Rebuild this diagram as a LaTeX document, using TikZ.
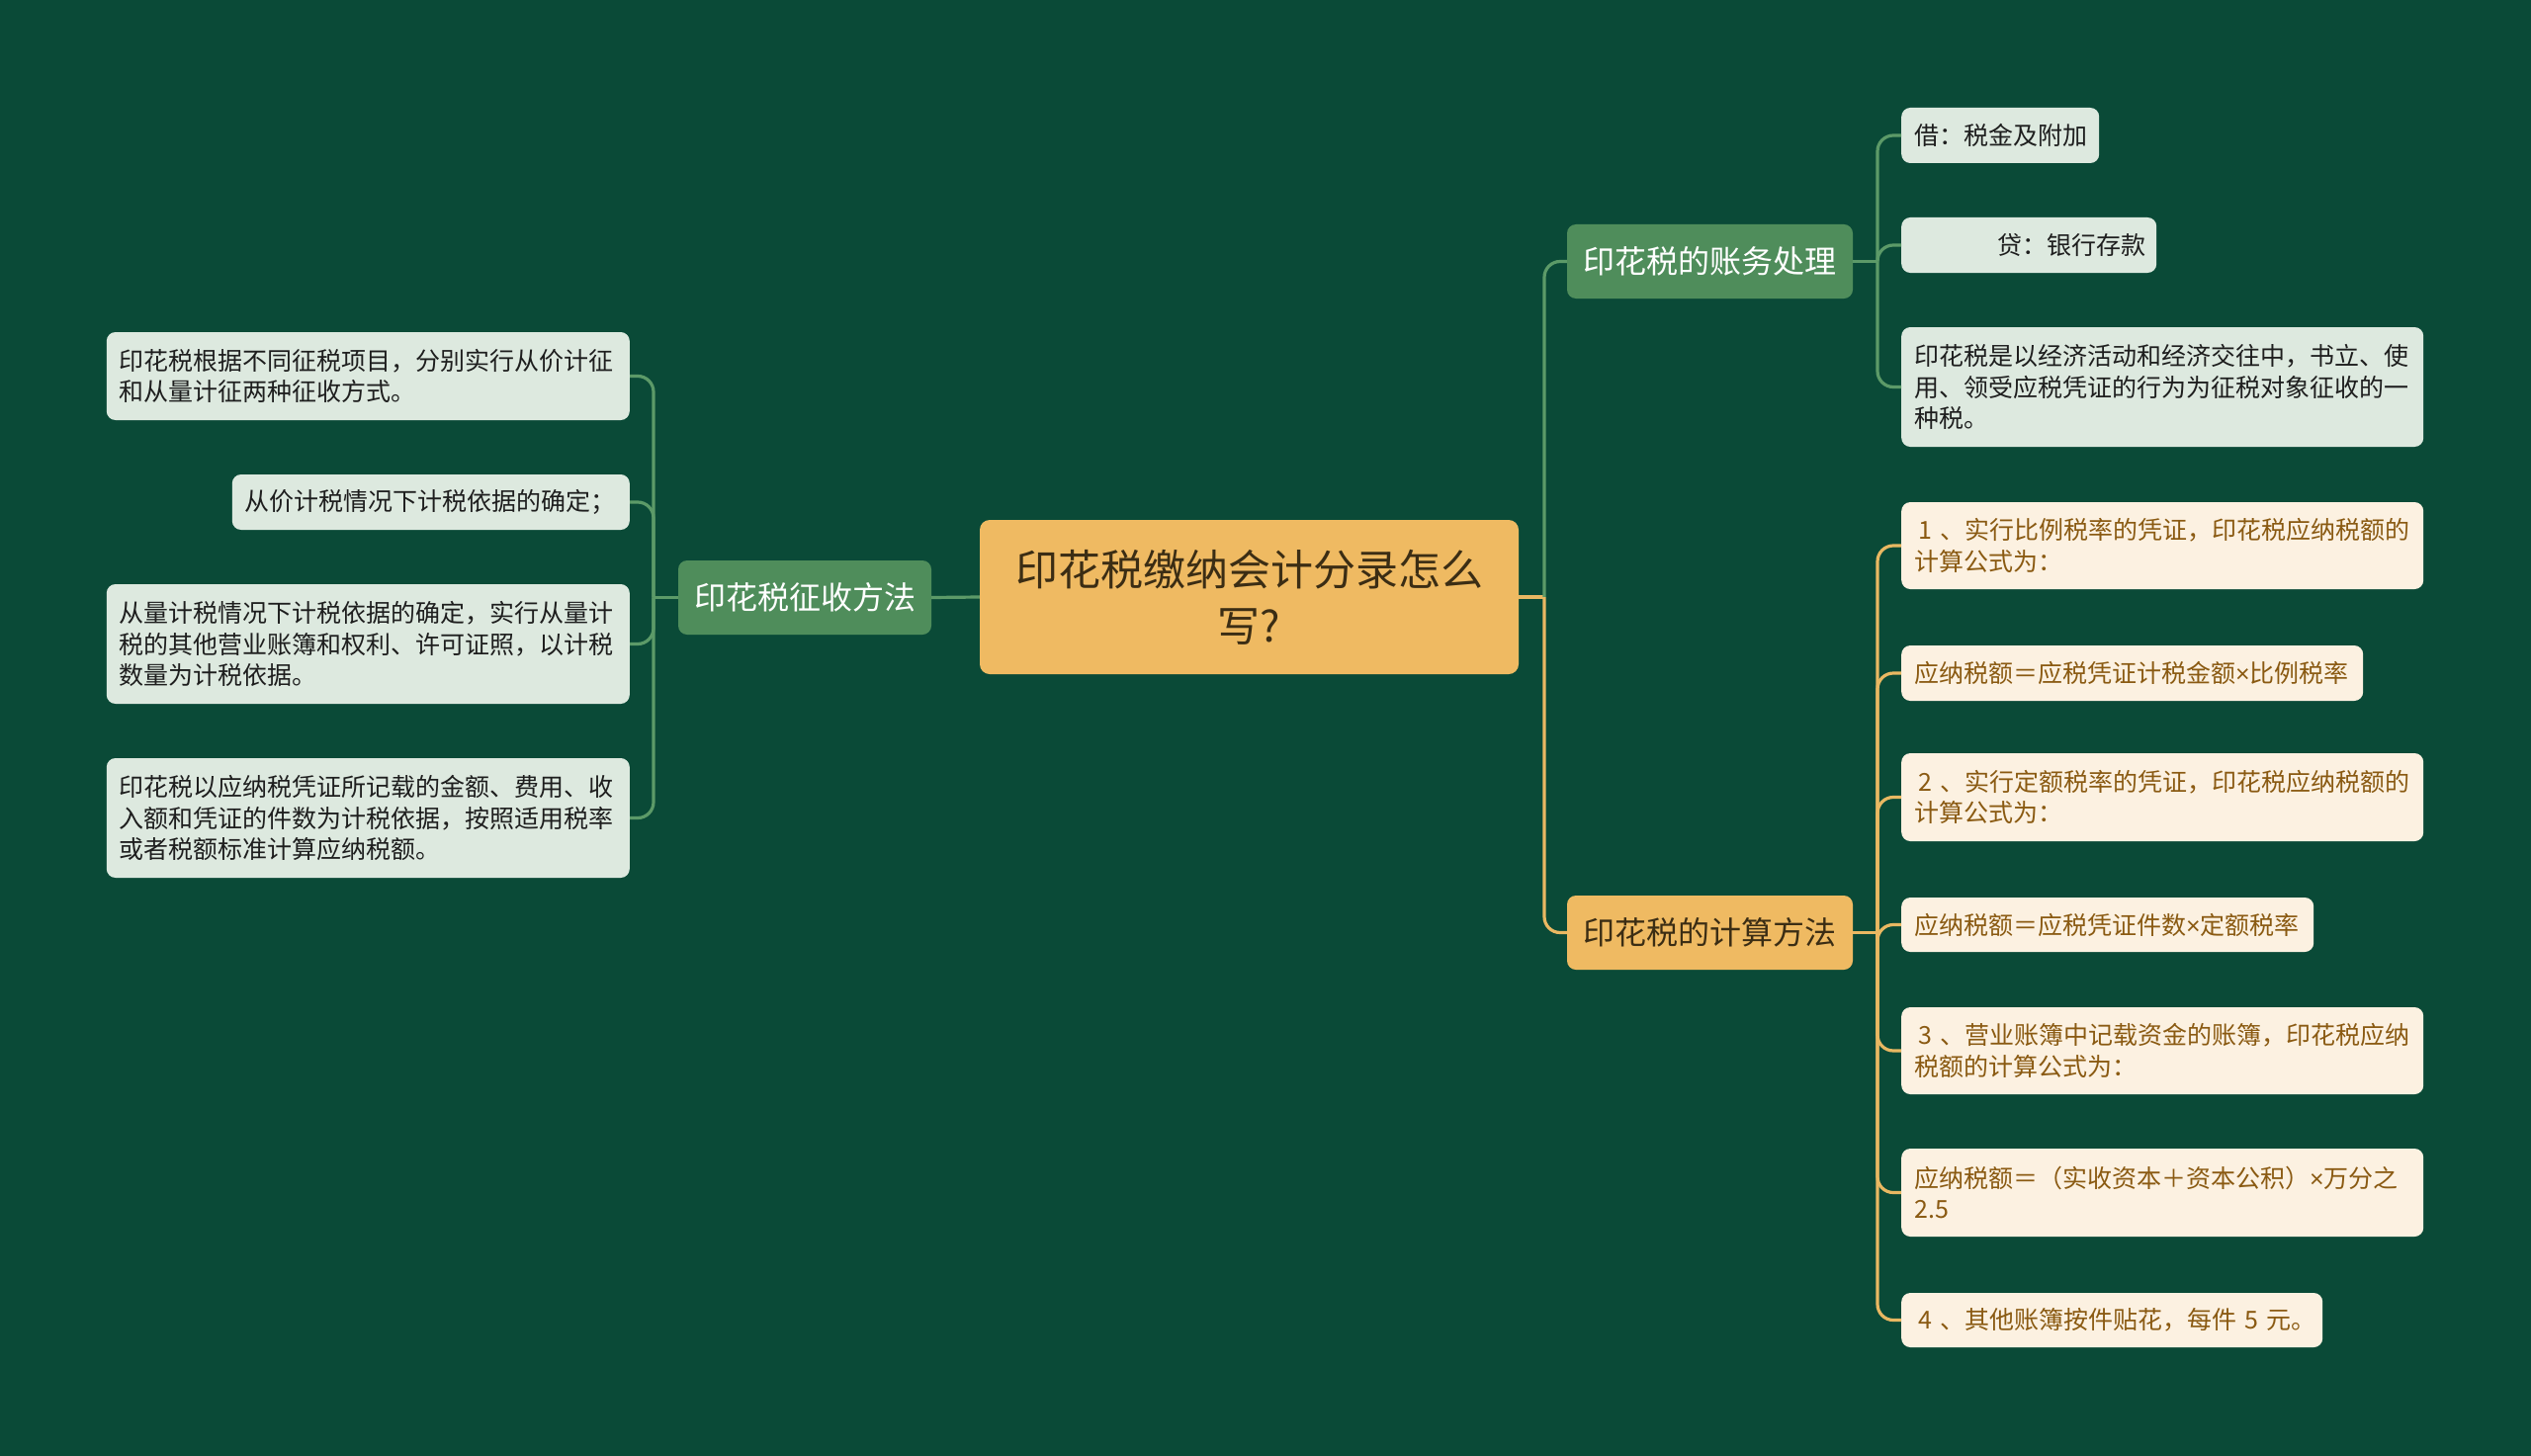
\documentclass[tikz,border=0pt]{standalone}
\usepackage{fontspec}
\setmainfont{Noto Sans CJK SC}
\newfontfamily\latfont{Liberation Sans}
\newcommand{\mytimes}{{\latfont ×}}
\definecolor{bg}{HTML}{0A4A37}
\definecolor{lgreen}{HTML}{5C9A68}
\definecolor{lyellow}{HTML}{E9B862}
\definecolor{cfill}{HTML}{EFBA62}
\definecolor{ctext}{HTML}{3B2D14}
\definecolor{gfill}{HTML}{4F8D5B}
\definecolor{leafg}{HTML}{DDE9DF}
\definecolor{leafy}{HTML}{FCF1E1}
\definecolor{ytext}{HTML}{8A5A12}
\definecolor{gtext}{HTML}{1E1E1E}
\tikzset{
  base/.style={rounded corners=9bp, inner sep=0bp, align=left},
  central/.style={base, fill=cfill, text=ctext, align=center, minimum width=545bp, minimum height=156bp, text width=480bp, font=\fontsize{43bp}{57bp}\selectfont, rounded corners=10bp},
  gbranch/.style={base, fill=gfill, text=white, minimum width=289bp, minimum height=75bp, align=center, font=\fontsize{32bp}{40bp}\selectfont},
  ybranch/.style={base, fill=cfill, text=ctext, minimum width=289bp, minimum height=75bp, align=center, font=\fontsize{32bp}{40bp}\selectfont},
  gleaf/.style={base, fill=leafg, text=gtext, inner xsep=13bp, font=\fontsize{25bp}{31.5bp}\selectfont},
  yleaf/.style={base, fill=leafy, text=ytext, inner xsep=13bp, font=\fontsize{25bp}{31.5bp}\selectfont},
  gline/.style={draw=lgreen, line width=3.2bp, rounded corners=16bp},
  yline/.style={draw=lyellow, line width=3.2bp, rounded corners=16bp},
}
\begin{document}
\begin{tikzpicture}[x=1bp,y=-1bp]
\fill[bg] (0,0) rectangle (2560,1473);
\useasboundingbox (0,0) rectangle (2560,1473);

% central
\node[central] (c) at (1263.5,604) {印花税缴纳会计分录怎么\\写?};

% branches
\node[gbranch, minimum width=256bp] (lb) at (814,604.5) {印花税征收方法};
\node[gbranch] (rb1) at (1729.5,264.5) {印花税的账务处理};
\node[ybranch] (rb2) at (1729.5,943.5) {印花税的计算方法};

% junction points
\coordinate (jl) at (661,604.5);
\coordinate (jc) at (1562,604);
\coordinate (j1) at (1899,264.5);
\coordinate (j2) at (1899,943.5);

% left leaves
\node[gleaf, anchor=east, text width=503bp, minimum height=89bp] (l1) at (637,380.5) {印花税根据不同征税项目，分别实行从价计征\\和从量计征两种征收方式。};
\node[gleaf, anchor=east, text width=376bp, minimum height=56bp] (l2) at (637,508) {从价计税情况下计税依据的确定；};
\node[gleaf, anchor=east, text width=503bp, minimum height=121bp] (l3) at (637,651.5) {从量计税情况下计税依据的确定，实行从量计\\税的其他营业账簿和权利、许可证照，以计税\\数量为计税依据。};
\node[gleaf, anchor=east, text width=503bp, minimum height=121bp] (l4) at (637,827.5) {印花税以应纳税凭证所记载的金额、费用、收\\入额和凭证的件数为计税依据，按照适用税率\\或者税额标准计算应纳税额。};

% right top leaves
\node[gleaf, anchor=west, text width=174bp, minimum height=56bp] (a1) at (1923,137) {借：税金及附加};
\node[gleaf, anchor=west, text width=232bp, minimum height=56bp] (a2) at (1923,248) {\hspace*{84bp}贷：银行存款};
\node[gleaf, anchor=west, text width=502bp, minimum height=121bp] (a3) at (1923,391.5) {印花税是以经济活动和经济交往中，书立、使\\用、领受应税凭证的行为为征税对象征收的一\\种税。};

% right bottom leaves
\node[yleaf, anchor=west, text width=502bp, minimum height=88bp] (b1) at (1923,552) {\hspace*{4bp}1 、实行比例税率的凭证，印花税应纳税额的\\计算公式为：};
\node[yleaf, anchor=west, text width=441bp, minimum height=56bp] (b2) at (1923,681) {应纳税额＝应税凭证计税金额\mytimes 比例税率};
\node[yleaf, anchor=west, text width=502bp, minimum height=89bp] (b3) at (1923,806.5) {\hspace*{4bp}2 、实行定额税率的凭证，印花税应纳税额的\\计算公式为：};
\node[yleaf, anchor=west, text width=391bp, minimum height=55bp] (b4) at (1923,935.5) {应纳税额＝应税凭证件数\mytimes 定额税率};
\node[yleaf, anchor=west, text width=502bp, minimum height=88bp] (b5) at (1923,1063) {\hspace*{4bp}3 、营业账簿中记载资金的账簿，印花税应纳\\税额的计算公式为：};
\node[yleaf, anchor=west, text width=502bp, minimum height=89bp] (b6) at (1923,1206.5) {应纳税额＝（实收资本＋资本公积）\mytimes 万分之\\2.5};
\node[yleaf, anchor=west, text width=400bp, minimum height=55bp] (b7) at (1923,1335.5) {\mbox{\hspace*{4bp}4 、其他账簿按件贴花，每件~5~元。}};

% connectors: center to branches
\draw[gline] (c.west) -- (lb.east);
\draw[yline] (c.east) -- (jc);
\draw[gline] (jc) -- (jc |- rb1.west) -- (rb1.west);
\draw[yline] (jc) -- (jc |- rb2.west) -- (rb2.west);

% left branch to leaves
\draw[gline] (lb.west) -- (jl);
\foreach \n in {l1,l2,l3,l4}{
  \draw[gline] (jl) -- (jl |- \n.east) -- (\n.east);
}
% right branch 1
\draw[gline] (rb1.east) -- (j1);
\foreach \n in {a1,a2,a3}{
  \draw[gline] (j1) -- (j1 |- \n.west) -- (\n.west);
}
% right branch 2
\draw[yline] (rb2.east) -- (j2);
\foreach \n in {b1,b2,b3,b4,b5,b6,b7}{
  \draw[yline] (j2) -- (j2 |- \n.west) -- (\n.west);
}
\end{tikzpicture}
\end{document}
